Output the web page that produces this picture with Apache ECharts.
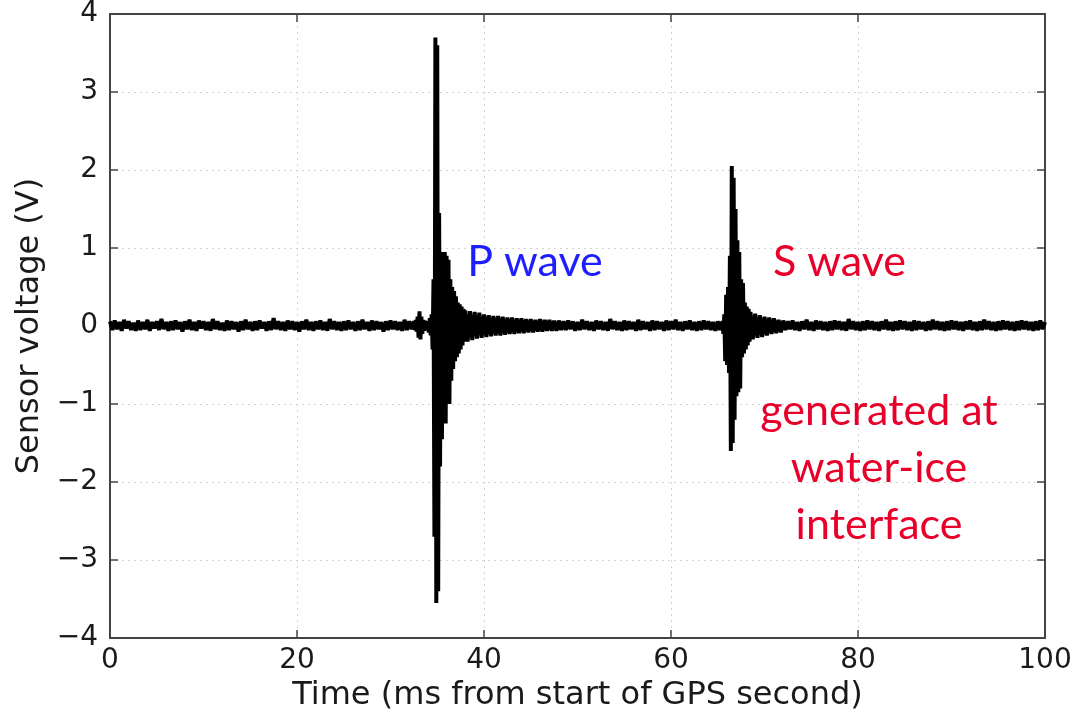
<!DOCTYPE html>
<html>
<head>
<meta charset="utf-8">
<script src="https://cdn.jsdelivr.net/npm/echarts@6/dist/echarts.min.js"></script>
<style>
html,body{margin:0;padding:0;background:#fff;}
#chart{width:1077px;height:717px;}
</style>
</head>
<body>
<div id="chart"></div>
<script>
// ---- data (sensor voltage, V) ----
const xTicks = [0, 20, 40, 60, 80, 100];
const yTicks = [-4, -3, -2, -1, 0, 1, 2, 3, 4];

// background noise 0 .. 32.25 ms, every 0.25 ms
const noiseAStart = 0, noiseAStep = 0.25;
const noiseA = [
0.06,-0.05,0.07,-0.04,0.05,-0.06,0.08,-0.03,0.06,-0.05,
0.04,-0.06,0.07,-0.05,0.05,-0.04,0.08,-0.06,0.05,-0.03,
0.06,-0.05,0.09,-0.04,0.05,-0.06,0.06,-0.05,0.07,-0.04,
0.05,-0.07,0.06,-0.04,0.08,-0.05,0.05,-0.06,0.07,-0.03,
0.06,-0.05,0.05,-0.06,0.09,-0.04,0.06,-0.05,0.04,-0.06,
0.07,-0.05,0.06,-0.04,0.05,-0.07,0.06,-0.05,0.08,-0.04,
0.05,-0.06,0.06,-0.05,0.07,-0.03,0.05,-0.06,0.06,-0.05,
0.10,-0.04,0.06,-0.05,0.05,-0.06,0.07,-0.04,0.06,-0.05,
0.05,-0.07,0.06,-0.04,0.08,-0.05,0.05,-0.06,0.06,-0.04,
0.07,-0.05,0.05,-0.06,0.09,-0.04,0.06,-0.05,0.05,-0.06,
0.06,-0.05,0.07,-0.04,0.05,-0.06,0.06,-0.05,0.08,-0.04,
0.05,-0.06,0.07,-0.05,0.06,-0.04,0.05,-0.07,0.06,-0.05,
0.07,-0.04,0.06,-0.05,0.05,-0.06,0.08,-0.05,0.06,-0.04
];
// small precursor 32.5 .. 33.9 ms, every 0.1 ms
const blipStart = 32.5, blipStep = 0.1;
const blip = [0.06,-0.05,0.08,-0.07,0.12,-0.15,0.19,-0.17,0.12,-0.1,0.08,-0.06,0.07,-0.05,0.06];
// P wave 34.0 .. 38.0 ms, every 0.1 ms
const pWaveStart = 34.0, pWaveStep = 0.1;
const pWave = [
0.05,-0.08,0.1,-0.12,0.15,-0.3,0.6,-2.7,3.7,-3.55,
3.6,-3.4,1.45,-1.8,0.95,-1.45,0.9,-1.1,0.95,-1.25,
0.9,-0.8,0.85,-1.0,0.6,-0.7,0.5,-0.55,0.45,-0.45,
0.38,-0.4,0.3,-0.35,0.28,-0.3,0.25,-0.25,0.22,-0.2,
0.2
];
// P coda 38.25 .. 48.0 ms, every 0.25 ms
const pCodaStart = 38.25, pCodaStep = 0.25;
const pCoda = [
-0.2,0.19,-0.18,0.18,-0.16,0.17,-0.15,0.15,-0.14,0.14,
-0.13,0.13,-0.12,0.13,-0.12,0.12,-0.11,0.11,-0.1,0.11,
-0.1,0.1,-0.09,0.1,-0.09,0.09,-0.08,0.09,-0.08,0.08,
-0.07,0.09,-0.07,0.08,-0.06,0.08,-0.06,0.07,-0.06,0.07
];
// noise 48.25 .. 65.25 ms
const noiseBStart = 48.25, noiseBStep = 0.25;
const noiseB = [
-0.05,0.06,-0.05,0.07,-0.04,0.06,-0.06,0.05,-0.05,0.08,
-0.04,0.06,-0.05,0.05,-0.06,0.07,-0.04,0.06,-0.05,0.05,
-0.06,0.09,-0.04,0.06,-0.05,0.05,-0.06,0.07,-0.05,0.06,
-0.04,0.05,-0.06,0.08,-0.05,0.06,-0.04,0.05,-0.06,0.07,
-0.05,0.06,-0.04,0.05,-0.06,0.07,-0.05,0.06,-0.04,0.08,
-0.05,0.05,-0.06,0.06,-0.04,0.07,-0.05,0.05,-0.06,0.06,
-0.05,0.07,-0.04,0.06,-0.05,0.05,-0.06,0.06,-0.05
];
// S wave 65.5 .. 68.5 ms, every 0.1 ms
const sWaveStart = 65.5, sWaveStep = 0.1;
const sWave = [
0.06,-0.1,0.15,-0.45,0.4,-0.5,0.5,-0.6,0.9,-1.6,
2.05,-1.5,1.9,-1.2,1.5,-0.9,1.1,-0.85,0.95,-0.8,
0.6,-0.4,0.55,-0.35,0.3,-0.3,0.25,-0.25,0.22,-0.2,
0.18
];
// S coda 68.75 .. 72.0 ms
const sCodaStart = 68.75, sCodaStep = 0.25;
const sCoda = [-0.17,0.16,-0.15,0.14,-0.14,0.12,-0.12,0.11,-0.1,0.1,-0.09,0.08,-0.08,0.07];
// noise 72.25 .. 100 ms
const noiseCStart = 72.25, noiseCStep = 0.25;
const noiseC = [
-0.05,0.06,-0.04,0.07,-0.05,0.05,-0.06,0.06,-0.04,0.08,
-0.05,0.05,-0.06,0.07,-0.04,0.06,-0.05,0.05,-0.06,0.06,
-0.05,0.07,-0.04,0.06,-0.05,0.05,-0.06,0.09,-0.04,0.06,
-0.05,0.05,-0.06,0.06,-0.05,0.07,-0.04,0.06,-0.05,0.05,
-0.06,0.06,-0.04,0.08,-0.05,0.05,-0.06,0.06,-0.05,0.07,
-0.04,0.06,-0.05,0.05,-0.06,0.07,-0.05,0.06,-0.04,0.05,
-0.06,0.06,-0.05,0.08,-0.04,0.06,-0.05,0.05,-0.06,0.06,
-0.05,0.07,-0.04,0.06,-0.05,0.05,-0.06,0.06,-0.04,0.07,
-0.05,0.05,-0.06,0.06,-0.05,0.08,-0.04,0.06,-0.05,0.05,
-0.06,0.06,-0.05,0.07,-0.04,0.06,-0.05,0.05,-0.06,0.06,
-0.05,0.07,-0.04,0.06,-0.05,0.05,-0.06,0.06,-0.05,0.07,
-0.04,0.05
];

// annotations (data coordinates of text anchor)
const annoTexts = ['P wave', 'S wave', 'generated at\nwater-ice\ninterface'];
const annoColors = ['#1e1eff', '#e8002a', '#e8002a'];
const annoX = [38.2, 70.9, 82.25];
const annoY = [1.19, 1.19, -0.72];
const annoAlign = ['left', 'left', 'center'];

// ---- build series ----
function seg(start, step, vals) {
  return vals.map((v, i) => [Math.round((start + i * step) * 1000) / 1000, v]);
}
const data = [].concat(
  seg(noiseAStart, noiseAStep, noiseA),
  seg(blipStart, blipStep, blip),
  seg(pWaveStart, pWaveStep, pWave),
  seg(pCodaStart, pCodaStep, pCoda),
  seg(noiseBStart, noiseBStep, noiseB),
  seg(sWaveStart, sWaveStep, sWave),
  seg(sCodaStart, sCodaStep, sCoda),
  seg(noiseCStart, noiseCStep, noiseC)
);

const FONT = 'DejaVu Sans';
const AX = '#444';
const TXT = '#1a1a1a';
const fmtMinus = v => String(v).replace('-', '\u2212');
const split = {show: true, lineStyle: {color: '#d4d4d4', type: [2, 4], width: 1}};
const tick = {show: true, inside: true, length: 8, lineStyle: {color: AX, width: 1.5}};
const line = {show: true, onZero: false, lineStyle: {color: AX, width: 2}};

const chart = echarts.init(document.getElementById('chart'), null, {renderer: 'canvas'});
chart.setOption({
  animation: false,
  backgroundColor: '#fff',
  grid: {left: 110, right: 32, top: 14, bottom: 73, containLabel: false},
  xAxis: [{
    type: 'value', min: xTicks[0], max: xTicks[xTicks.length - 1], interval: 20,
    name: 'Time (ms from start of GPS second)', nameLocation: 'middle', nameGap: 41,
    nameTextStyle: {fontFamily: FONT, fontSize: 32, color: TXT},
    axisLine: line, axisTick: tick,
    axisLabel: {fontFamily: FONT, fontSize: 28, color: TXT, margin: 9},
    splitLine: split
  }, {
    type: 'value', position: 'top', min: 0, max: 100, interval: 20,
    axisLine: line, axisTick: tick,
    axisLabel: {show: false}, splitLine: {show: false}
  }],
  yAxis: [{
    type: 'value', min: yTicks[0], max: yTicks[yTicks.length - 1], interval: 1,
    name: 'Sensor voltage (V)', nameLocation: 'middle', nameGap: 52, nameRotate: 90,
    nameTextStyle: {fontFamily: FONT, fontSize: 32, color: TXT},
    axisLine: line, axisTick: tick,
    axisLabel: {fontFamily: FONT, fontSize: 28, color: TXT, margin: 12, formatter: fmtMinus},
    splitLine: split
  }, {
    type: 'value', position: 'right', min: -4, max: 4, interval: 1,
    axisLine: line, axisTick: tick,
    axisLabel: {show: false}, splitLine: {show: false}
  }],
  series: [{
    type: 'line', data: data, showSymbol: false, symbol: 'none',
    sampling: null, smooth: false,
    lineStyle: {color: '#000', width: 4}, z: 5
  }]
});

const graphics = annoTexts.map((t, i) => {
  const p = chart.convertToPixel({xAxisIndex: 0, yAxisIndex: 0}, [annoX[i], annoY[i]]);
  return {
    type: 'text', x: p[0], y: p[1], z: 10,
    style: {text: t, fill: annoColors[i], font: '43px Lato', align: annoAlign[i],
            verticalAlign: 'top', lineHeight: 57}
  };
});
chart.setOption({graphic: graphics});
</script>
</body>
</html>
